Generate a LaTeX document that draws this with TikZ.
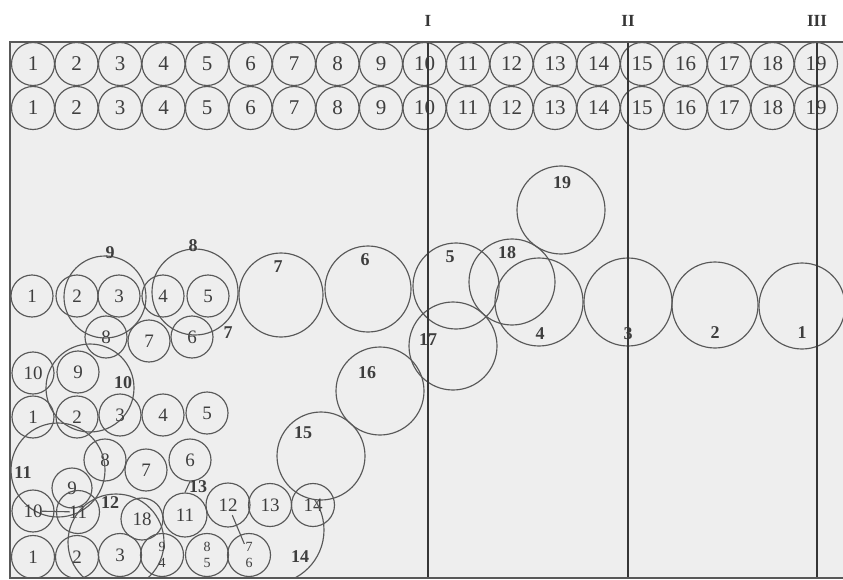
\documentclass[tikz,border=0pt]{standalone}
\usepackage{fontspec}
\setmainfont{Liberation Serif}
\definecolor{cline}{HTML}{585858}
\definecolor{tcol}{HTML}{3E3E3E}
\definecolor{vline}{HTML}{363636}
\definecolor{bgc}{HTML}{EEEEEE}
\tikzset{
  ring/.style={circle, draw=cline, line width=1.15pt, inner sep=0pt, minimum size=#1},
  ring/.default=43pt,
  num/.style={font=\fontsize{21}{21}\selectfont, text=tcol},
  snum/.style={font=\fontsize{19}{19}\selectfont, text=tcol},
  bnum/.style={font=\bfseries\fontsize{18}{18}\selectfont, text=tcol, inner sep=1pt},
  stack/.style={font=\fontsize{14}{16}\selectfont, text=tcol, align=center},
  roman/.style={font=\bfseries\fontsize{17}{17}\selectfont, text=vline},
  conn/.style={draw=cline, line width=1.1pt},
  divider/.style={draw=vline, line width=1.4pt},
  frameline/.style={draw=cline, line width=1.4pt}
}
\begin{document}
\begin{tikzpicture}[x=1pt,y=-1pt]
\useasboundingbox (0,0) rectangle (843,580);
\fill[bgc] (10,42) rectangle (843,578);

% section labels and dividers
\node[roman] (nI) at (428,21) {I};
\node[roman] (nII) at (628,21) {II};
\node[roman] (nIII) at (817,21) {III};
\coordinate (Itop) at (428,42);   \coordinate (Ibot) at (428,578);
\coordinate (IItop) at (628,42);  \coordinate (IIbot) at (628,578);
\coordinate (IIItop) at (817,42); \coordinate (IIIbot) at (817,578);

\begin{scope}
\clip (10,42) rectangle (843,578);
% top two rows
\foreach \i in {1,...,19} {
  \node[ring, num] (ta\i) at ({33+43.5*(\i-1)},64) {\i};
  \node[ring, num] (tb\i) at ({33+43.5*(\i-1)},108) {\i};
}

% upper cluster
\node[ring=42pt, snum] (a1) at (32,296) {1};
\node[ring=42pt, snum] (a2) at (77,296) {2};
\node[ring=42pt, snum] (a3) at (119,296) {3};
\node[ring=42pt, snum] (a4) at (163,296) {4};
\node[ring=42pt, snum] (a5) at (208,296) {5};
\node[ring=42pt, snum] (a8) at (106,337) {8};
\node[ring=42pt, snum] (a7) at (149,341) {7};
\node[ring=42pt, snum] (a6) at (192,337) {6};
\node[ring=82pt] (B9) at (105,297) {};
\node[bnum] (LB9) at (110,253) {9};
\node[ring=86pt] (B8) at (195,292) {};
\node[bnum] (LB8) at (193,246) {8};
\node[bnum] (L7b) at (228,333) {7};

% chain of large circles
\node[ring=84pt] (C7) at (281,295) {};
\node[bnum] (LC7) at (278,267) {7};
\node[ring=86pt] (C6) at (368,289) {};
\node[bnum] (LC6) at (365,260) {6};
\node[ring=86pt] (C5) at (456,286) {};
\node[bnum] (LC5) at (450,257) {5};
\node[ring=86pt] (C18) at (512,282) {};
\node[bnum] (LC18) at (507,253) {18};
\node[ring=88pt] (C19) at (561,210) {};
\node[bnum] (LC19) at (562,183) {19};
\node[ring=88pt] (C4) at (539,302) {};
\node[bnum] (LC4) at (540,334) {4};
\node[ring=88pt] (C17) at (453,346) {};
\node[bnum] (LC17) at (428,340) {17};
\node[ring=88pt] (C16) at (380,391) {};
\node[bnum] (LC16) at (367,373) {16};
\node[ring=88pt] (C15) at (321,456) {};
\node[bnum] (LC15) at (303,433) {15};
\node[ring=88pt] (C3) at (628,302) {};
\node[bnum] (LC3) at (628,334) {3};
\node[ring=86pt] (C2) at (715,305) {};
\node[bnum] (LC2) at (715,333) {2};
\node[ring=86pt] (C1) at (802,306) {};
\node[bnum] (LC1) at (802,333) {1};

% lower cluster
\node[ring=42pt, snum] (b10) at (33,373) {10};
\node[ring=42pt, snum] (b9) at (78,372) {9};
\node[ring=88pt] (D10) at (90,388) {};
\node[bnum] (LD10) at (123,383) {10};
\node[ring=42pt, snum] (c1) at (33,417) {1};
\node[ring=42pt, snum] (c2) at (77,417) {2};
\node[ring=42pt, snum] (c3) at (120,415) {3};
\node[ring=42pt, snum] (c4) at (163,415) {4};
\node[ring=42pt, snum] (c5) at (207,413) {5};
\node[ring=42pt, snum] (c8) at (105,460) {8};
\node[ring=42pt, snum] (c7) at (146,470) {7};
\node[ring=42pt, snum] (c6) at (190,460) {6};
\node[ring=94pt] (D11) at (58,470) {};
\node[bnum] (LD11) at (23,473) {11};
\node[ring=40pt, snum] (d9) at (72,488) {9};
\node[ring=42pt, snum] (d10) at (33,511) {10};
\node[ring=43pt, snum] (d11) at (78,512) {11};
\node[ring=96pt] (D12) at (116,542) {};
\node[bnum] (LD12) at (110,503) {12};
\node[ring=42pt, snum] (d18) at (142,519) {18};
\node[ring=44pt, snum] (d11b) at (185,515) {11};
\node[ring=44pt, snum] (d12) at (228,505) {12};
\node[ring=43pt, snum] (d13) at (270,505) {13};
\node[ring=43pt, snum] (d14) at (313,505) {14};
\node[bnum] (LD13) at (198,487) {13};
\node[ring=43pt, snum] (e1) at (33,557) {1};
\node[ring=43pt, snum] (e2) at (77,557) {2};
\node[ring=43pt, snum] (e3) at (120,555) {3};
\node[ring=43pt, stack] (e4) at (162,555) {9\\4};
\node[ring=43pt, stack] (e5) at (207,555) {8\\5};
\node[ring=43pt, stack] (e6) at (249,555) {7\\6};
\node[bnum] (LD14) at (300,557) {14};
\begin{scope}
  \clip (292,500) rectangle (345,578);
  \node[ring=108pt] (D14) at (270,530) {};
\end{scope}

% connectors
\draw[conn] (c6.south) -- (d11b.north);
\draw[conn, shorten <=9pt, shorten >=8pt] (d10.center) -- (d11.center);
\draw[conn, shorten <=11pt, shorten >=12pt] (d12.center) -- (e6.center);

% dividers
\draw[divider] (Itop) -- (Ibot);
\draw[divider] (IItop) -- (IIbot);
\draw[divider] (IIItop) -- (IIIbot);
\end{scope}

% frame
\draw[frameline] (843,42) -- (10,42) -- (10,578) -- (843,578);
\end{tikzpicture}
\end{document}
